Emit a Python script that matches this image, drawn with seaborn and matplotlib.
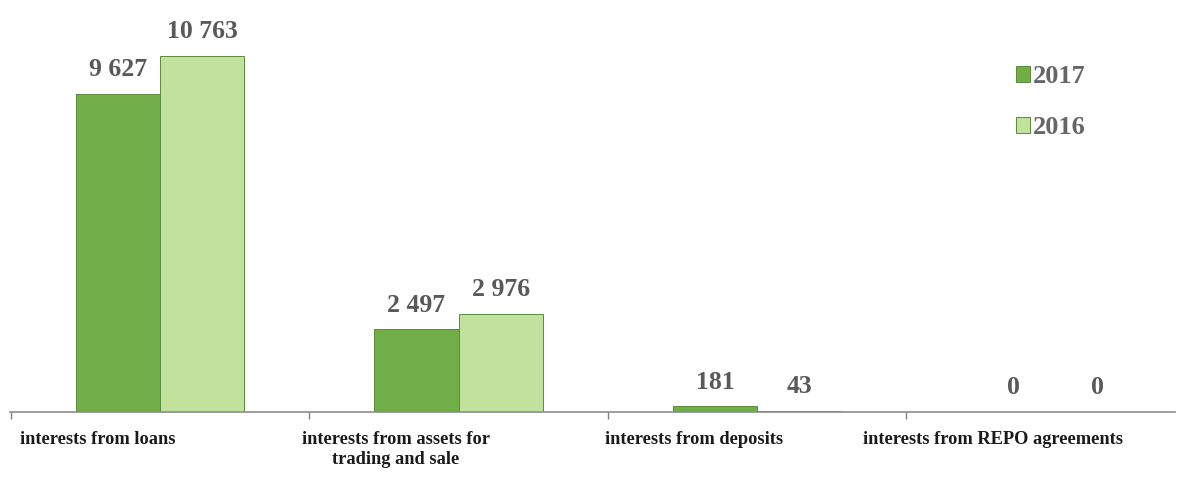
import numpy as np
import pandas as pd
import matplotlib
matplotlib.use('Agg')
import matplotlib.pyplot as plt
import seaborn as sns

# data
categories = ['interests from loans', 'interests from assets for\ntrading and sale',
              'interests from deposits', 'interests from REPO agreements']
years = ['2017', '2016']
values_2017 = [9627, 2497, 181, 0]
values_2016 = [10763, 2976, 43, 0]

df = pd.DataFrame({'category': categories * 2,
                   'year': [years[0]] * 4 + [years[1]] * 4,
                   'value': values_2017 + values_2016})

sns.set_theme(style='white')
plt.rcParams['font.family'] = ['Liberation Serif', 'DejaVu Serif']

colors = ['#72ae48', '#c0e29c']

fig = plt.figure(figsize=(11.9, 4.83), dpi=100)
ax = fig.add_axes([10 / 1190, 71 / 483, 1165 / 1190, 397 / 483])

sns.barplot(df, x='category', y='value', hue='year', hue_order=years,
            order=categories, palette=colors, saturation=1, width=0.565, ax=ax,
            edgecolor='#5b8a3c', linewidth=0.7, legend=True)

for cont in ax.containers:
    labels = [f'{v:,.0f}'.replace(',', ' ') for v in cont.datavalues]
    ax.bar_label(cont, labels=labels, padding=9, fontsize=18.5,
                 fontweight='bold', color='#595959')

ax.set_xlim(-0.503, 3.40)
ax.set_ylim(0, 12000)
ax.set_yticks([])
ax.set_ylabel('')
ax.set_xlabel('')

# category labels sit left of the group centres in the original
ax.set_xticks(np.arange(len(categories)) - 0.21)
ax.set_xticklabels(categories, fontsize=13.2, fontweight='bold', color='#1a1a1a',
                   multialignment='center')
ax.tick_params(axis='x', length=0, pad=14)
ax.set_xticks(np.arange(len(categories)) - 0.5, minor=True)
ax.tick_params(axis='x', which='minor', length=5, width=1, color='#808080',
               direction='out', bottom=True)

for s in ['top', 'right', 'left']:
    ax.spines[s].set_visible(False)
ax.spines['bottom'].set_color('#8c8c8c')
ax.spines['bottom'].set_linewidth(1.2)

leg = ax.legend(loc='upper left', bbox_to_anchor=(0.843, 0.933), frameon=False,
                fontsize=19, handlelength=0.55, handleheight=0.55,
                handletextpad=0.1, labelspacing=1.05)
for t in leg.get_texts():
    t.set_color('#666666')
    t.set_fontweight('bold')

fig.savefig('out.png', dpi=100)
